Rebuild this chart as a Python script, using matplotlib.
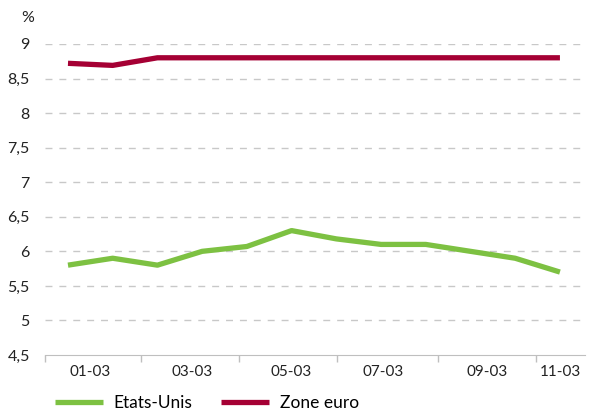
import matplotlib
matplotlib.use("Agg")
import matplotlib.pyplot as plt
import numpy as np

plt.rcParams['font.family'] = ['Lato', 'DejaVu Sans']

# données
months = np.arange(12)
etats_unis = [5.8, 5.9, 5.8, 6.0, 6.07, 6.3, 6.18, 6.1, 6.1, 6.0, 5.9, 5.7]
zone_euro = [8.72, 8.69, 8.8, 8.8, 8.8, 8.8, 8.8, 8.8, 8.8, 8.8, 8.8, 8.8]
x_labels = ["01-03", "03-03", "05-03", "07-03", "09-03", "11-03"]
y_ticks = [4.5, 5, 5.5, 6, 6.5, 7, 7.5, 8, 8.5, 9]

# positions des étiquettes / graduations (axe de dates irrégulier)
label_pos = [0.49, 2.77, 4.99, 7.04, 9.37, 11.0]
tick_pos = [-0.514, 1.63, 3.82, 6.01, 8.27, 10.46]

GREEN = "#7dc142"
RED = "#a50034"
GRID = "#c8c8c8"
TXT = "#222222"

fig = plt.figure(figsize=(5.96, 4.12), dpi=100)
ax = fig.add_axes([0.0755, 0.1383, 0.906, 0.755])

for v in y_ticks[1:]:
    ax.axhline(v, color=GRID, lw=1, dashes=(5, 5), zorder=0)

ax.plot(months, etats_unis, color=GREEN, lw=3.8, solid_capstyle='butt', label="Etats-Unis")
ax.plot(months, zone_euro, color=RED, lw=3.8, solid_capstyle='butt', label="Zone euro")

ax.set_xlim(-0.514, 11.56)
ax.set_ylim(4.5, 9)

ax.set_yticks(y_ticks)
ax.set_yticklabels([f"{v:g}".replace(".", ",") for v in y_ticks], fontsize=11.5, color=TXT)
ax.tick_params(axis='y', length=0, pad=11)

ax.set_xticks(tick_pos)
ax.set_xticklabels([])
ax.tick_params(axis='x', length=5, color="#bfbfbf", width=1, direction='out')
ax.set_xticks(label_pos, minor=True)
ax.set_xticklabels(x_labels, minor=True, fontsize=11, color=TXT)
ax.tick_params(axis='x', which='minor', length=0, pad=7)

for s in ['top', 'right', 'left']:
    ax.spines[s].set_visible(False)
ax.spines['bottom'].set_color("#bfbfbf")

fig.text(0.036, 0.957, "%", fontsize=11.5, color=TXT, ha='left', va='center')

fig.legend(loc='center left', bbox_to_anchor=(0.092, 0.022), ncol=2, frameon=False,
           fontsize=12.5, handlelength=2.8, columnspacing=1.6, handletextpad=0.6,
           borderaxespad=0, borderpad=0)

plt.savefig("out.png", dpi=100)
